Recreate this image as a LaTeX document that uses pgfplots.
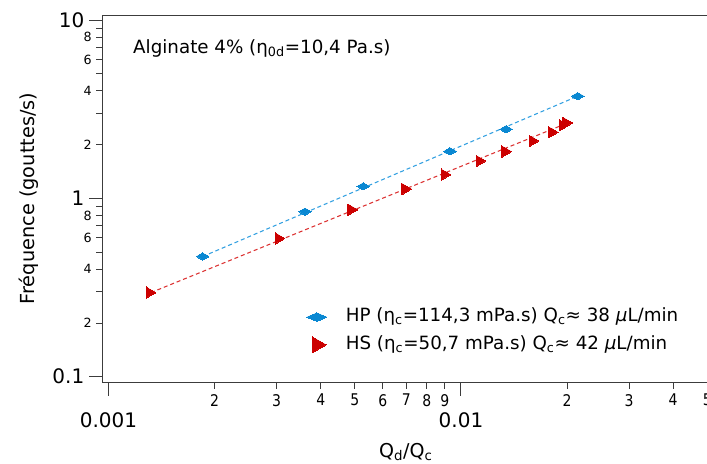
\documentclass[border=0pt]{standalone}
\usepackage{fontspec}
\setmainfont{DejaVu Sans}
\usepackage{pgfplots}
\pgfplotsset{compat=1.18}

\definecolor{hpblue}{RGB}{10,136,210}
\definecolor{hplin}{RGB}{50,160,225}
\definecolor{hsred}{RGB}{204,0,0}
\definecolor{hslin}{RGB}{220,50,50}
\definecolor{axgray}{RGB}{60,60,60}

\begin{document}
\begin{tikzpicture}
\begin{axis}[
  at={(0pt,0pt)}, anchor=south west,
  scale only axis, width=454.35pt, height=275.25pt,
  xmode=log, ymode=log,
  xmin=0.0009647, xmax=0.05047, ymin=0.0934, ymax=10.67,
  axis line style={axgray, line width=0.75pt},
  tick align=outside, tick pos=left,
  major tick length=10.5pt, minor tick length=5pt,
  every tick/.style={axgray, line width=0.75pt},
  xtick={0.001,0.01}, xticklabels={0.001,0.01},
  ytick={0.1,1,10}, yticklabels={0.1,1,10},
  tick label style={font=\fontsize{15}{18}\selectfont},
  xticklabel style={yshift=-9pt},
  extra x ticks={0.002,0.003,0.004,0.005,0.006,0.007,0.008,0.009,0.02,0.03,0.04,0.05},
  extra x tick labels={2,3,4,5,6,7,8,9,2,3,4,5},
  extra x tick style={major tick length=5pt, tick label style={font=\fontsize{10.5}{12}\selectfont, yscale=1.15, yshift=9pt}},
  extra y ticks={0.2,0.4,0.6,0.8,2,4,6,8},
  extra y tick labels={2,4,6,8,2,4,6,8},
  extra y tick style={major tick length=5pt, tick label style={font=\fontsize{9.5}{11}\selectfont}},
  xlabel={Q\textsubscript{d}/Q\textsubscript{c}},
  ylabel={Fréquence (gouttes/s)},
  xlabel style={at={(axis description cs:0.5,0)}, anchor=center, yshift=-52.5pt, font=\fontsize{14.3}{17}\selectfont},
  ylabel style={at={(axis description cs:0,0.5)}, anchor=center, yshift=56pt, font=\fontsize{14.5}{17}\selectfont},
  legend style={at={(0.320,0.2005)}, anchor=north west, draw=none, fill=none, inner sep=0pt, outer sep=0pt,
    row sep=7.8pt, font=\fontsize{13.7}{16}\selectfont,
    nodes={inner sep=0pt, text height=10pt, text depth=3pt}},
  legend cell align=left,
  legend image code/.code={\path[draw=none, fill=none] (0pt,-3pt) coordinate (lia) (36.75pt,3pt) coordinate (lib); \draw[#1, only marks] plot coordinates {(15pt,0pt)};},
]
\addplot[forget plot, hplin, line width=0.8pt, dash pattern=on 3pt off 2.2pt] coordinates {(0.00185,0.472) (0.02144,3.742)};
\addplot[forget plot, hslin, line width=0.8pt, dash pattern=on 3pt off 2.2pt] coordinates {(0.00132,0.2964) (0.02008,2.649)};
\addplot[forget plot, only marks, mark=diamond*, color=hpblue, mark size=3pt, mark options={line width=0pt, xscale=2.1, yscale=0.9}] table {
x y
0.001850 0.4722
0.003609 0.842
0.005282 1.168
0.009307 1.837
0.01342 2.441
0.02144 3.742
};
\addplot[forget plot, only marks, mark=triangle*, color=hsred, mark size=4.9pt, mark options={line width=0pt, xshift=-1.2pt, rotate=-90}] table {
x y
0.001320 0.2964
0.003066 0.596
0.004930 0.864
0.007015 1.128
0.009066 1.359
0.01139 1.621
0.01348 1.830
0.01611 2.099
0.01827 2.349
0.01960 2.571
0.02008 2.649
};
\addlegendimage{color=hpblue, mark=diamond*, mark size=4pt, mark options={line width=0pt, xscale=2.5, yscale=0.8}}
\addlegendentry{HP (η\textsubscript{c}=114,3 mPa.s) Q\textsubscript{c}≈ 38 \textit{μ}L/min}
\addlegendimage{color=hsred, mark=triangle*, mark size=7pt, mark options={line width=0pt, rotate=-90}}
\addlegendentry{HS (η\textsubscript{c}=50,7 mPa.s) Q\textsubscript{c}≈ 42 \textit{μ}L/min}
\node[anchor=base west, inner sep=0pt, font=\fontsize{13.7}{16}\selectfont] at (rel axis cs:0.0495,0.8956) {Alginate 4\% (η\textsubscript{0d}=10,4 Pa.s)};
\end{axis}
\pgfresetboundingbox
\path[use as bounding box] (-77.25pt,-61.5pt) rectangle (453pt,286.5pt);
\end{tikzpicture}
\end{document}
